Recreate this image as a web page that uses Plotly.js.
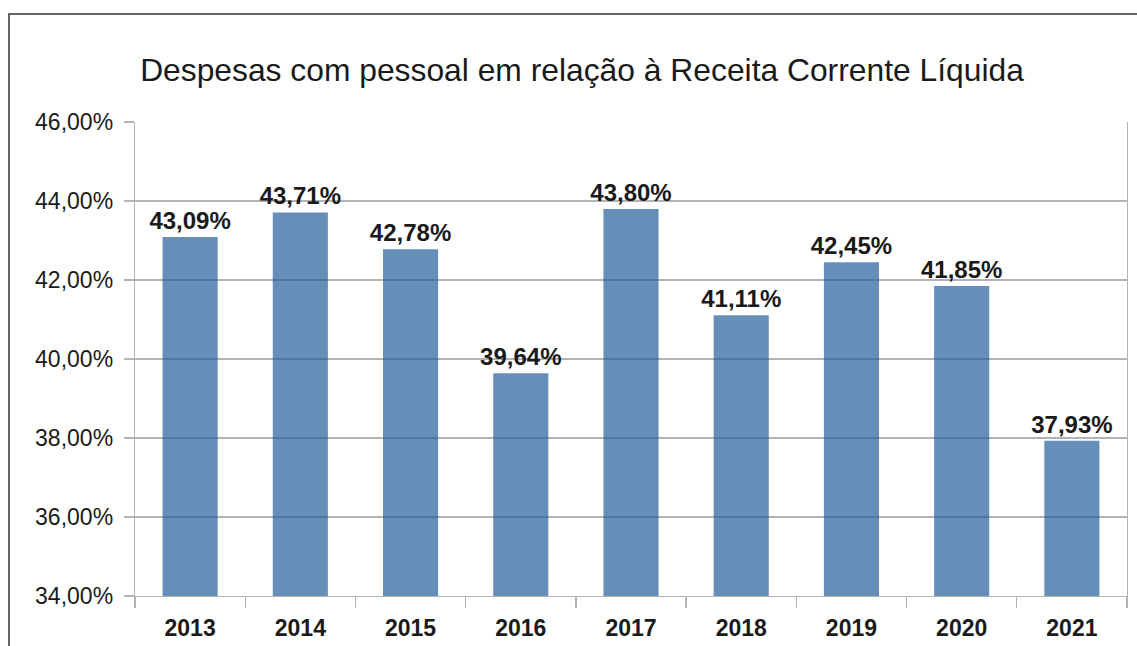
<!DOCTYPE html>
<html>
<head>
<meta charset="utf-8">
<script src="https://cdn.plot.ly/plotly-3.0.1.min.js"></script>
<style>
html,body{margin:0;padding:0;background:#fff;overflow:hidden;}
#chart{width:1137px;height:646px;}
#frame{position:absolute;left:8px;top:13px;width:1200px;height:700px;border-left:2px solid #666;border-top:2px solid #666;pointer-events:none;}
</style>
</head>
<body>
<div id="chart"></div>
<div id="frame"></div>
<script>
const years = ['2013','2014','2015','2016','2017','2018','2019','2020','2021'];
const values = [43.09, 43.71, 42.78, 39.64, 43.80, 41.11, 42.45, 41.85, 37.93];
const yTicks = [34, 36, 38, 40, 42, 44, 46];
const yTickText = yTicks.map(v => v.toFixed(2).replace('.', ',') + '%');
const chartTitle = 'Despesas com pessoal em relação à Receita Corrente Líquida';

const trace = {
  type: 'bar',
  x: years,
  y: values,
  width: 0.5,
  marker: {color: 'rgb(35,95,154)', opacity: 0.7, line: {width: 0}},
  texttemplate: '%{y:.2f}%',
  textposition: 'outside',
  constraintext: 'none',
  textfont: {family: 'Liberation Sans, Arial, sans-serif', size: 24, color: '#1a1a1a', weight: 'bold'},
  cliponaxis: false,
  hoverinfo: 'none'
};

const layout = {
  width: 1137,
  height: 646,
  margin: {l: 135, r: 10, t: 122, b: 50},
  paper_bgcolor: '#fff',
  plot_bgcolor: '#fff',
  separators: ',.',
  showlegend: false,
  font: {family: 'Liberation Sans, Arial, sans-serif', color: '#1a1a1a'},
  title: {
    text: chartTitle,
    font: {family: 'Liberation Sans, Arial, sans-serif', size: 31.8, color: '#1a1a1a'},
    xref: 'paper', x: 0.4506, xanchor: 'center',
    yref: 'container', y: 1 - 70/646, yanchor: 'middle'
  },
  xaxis: {
    type: 'category',
    tickson: 'boundaries',
    ticks: 'outside',
    ticklen: 11,
    tickwidth: 1.3,
    tickcolor: '#b3b3b3',
    showline: true,
    linecolor: '#b3b3b3',
    linewidth: 1.3,
    showgrid: false,
    tickfont: {family: 'Liberation Sans, Arial, sans-serif', size: 23, color: '#1a1a1a', weight: 'bold'},
    ticklabelstandoff: 11
  },
  yaxis: {
    range: [34, 46],
    tickmode: 'array',
    tickvals: yTicks,
    ticktext: yTickText,
    ticks: 'outside',
    ticklen: 10,
    tickwidth: 1.3,
    tickcolor: '#b3b3b3',
    showline: true,
    mirror: true,
    linecolor: '#b3b3b3',
    linewidth: 1.3,
    showgrid: true,
    gridcolor: '#b3b3b3',
    gridwidth: 1.3,
    zeroline: false,
    tickfont: {family: 'Liberation Sans, Arial, sans-serif', size: 23, color: '#1a1a1a'},
    ticklabelstandoff: 6
  }
};

Plotly.newPlot('chart', [trace], layout, {displayModeBar: false, staticPlot: true});
</script>
</body>
</html>
